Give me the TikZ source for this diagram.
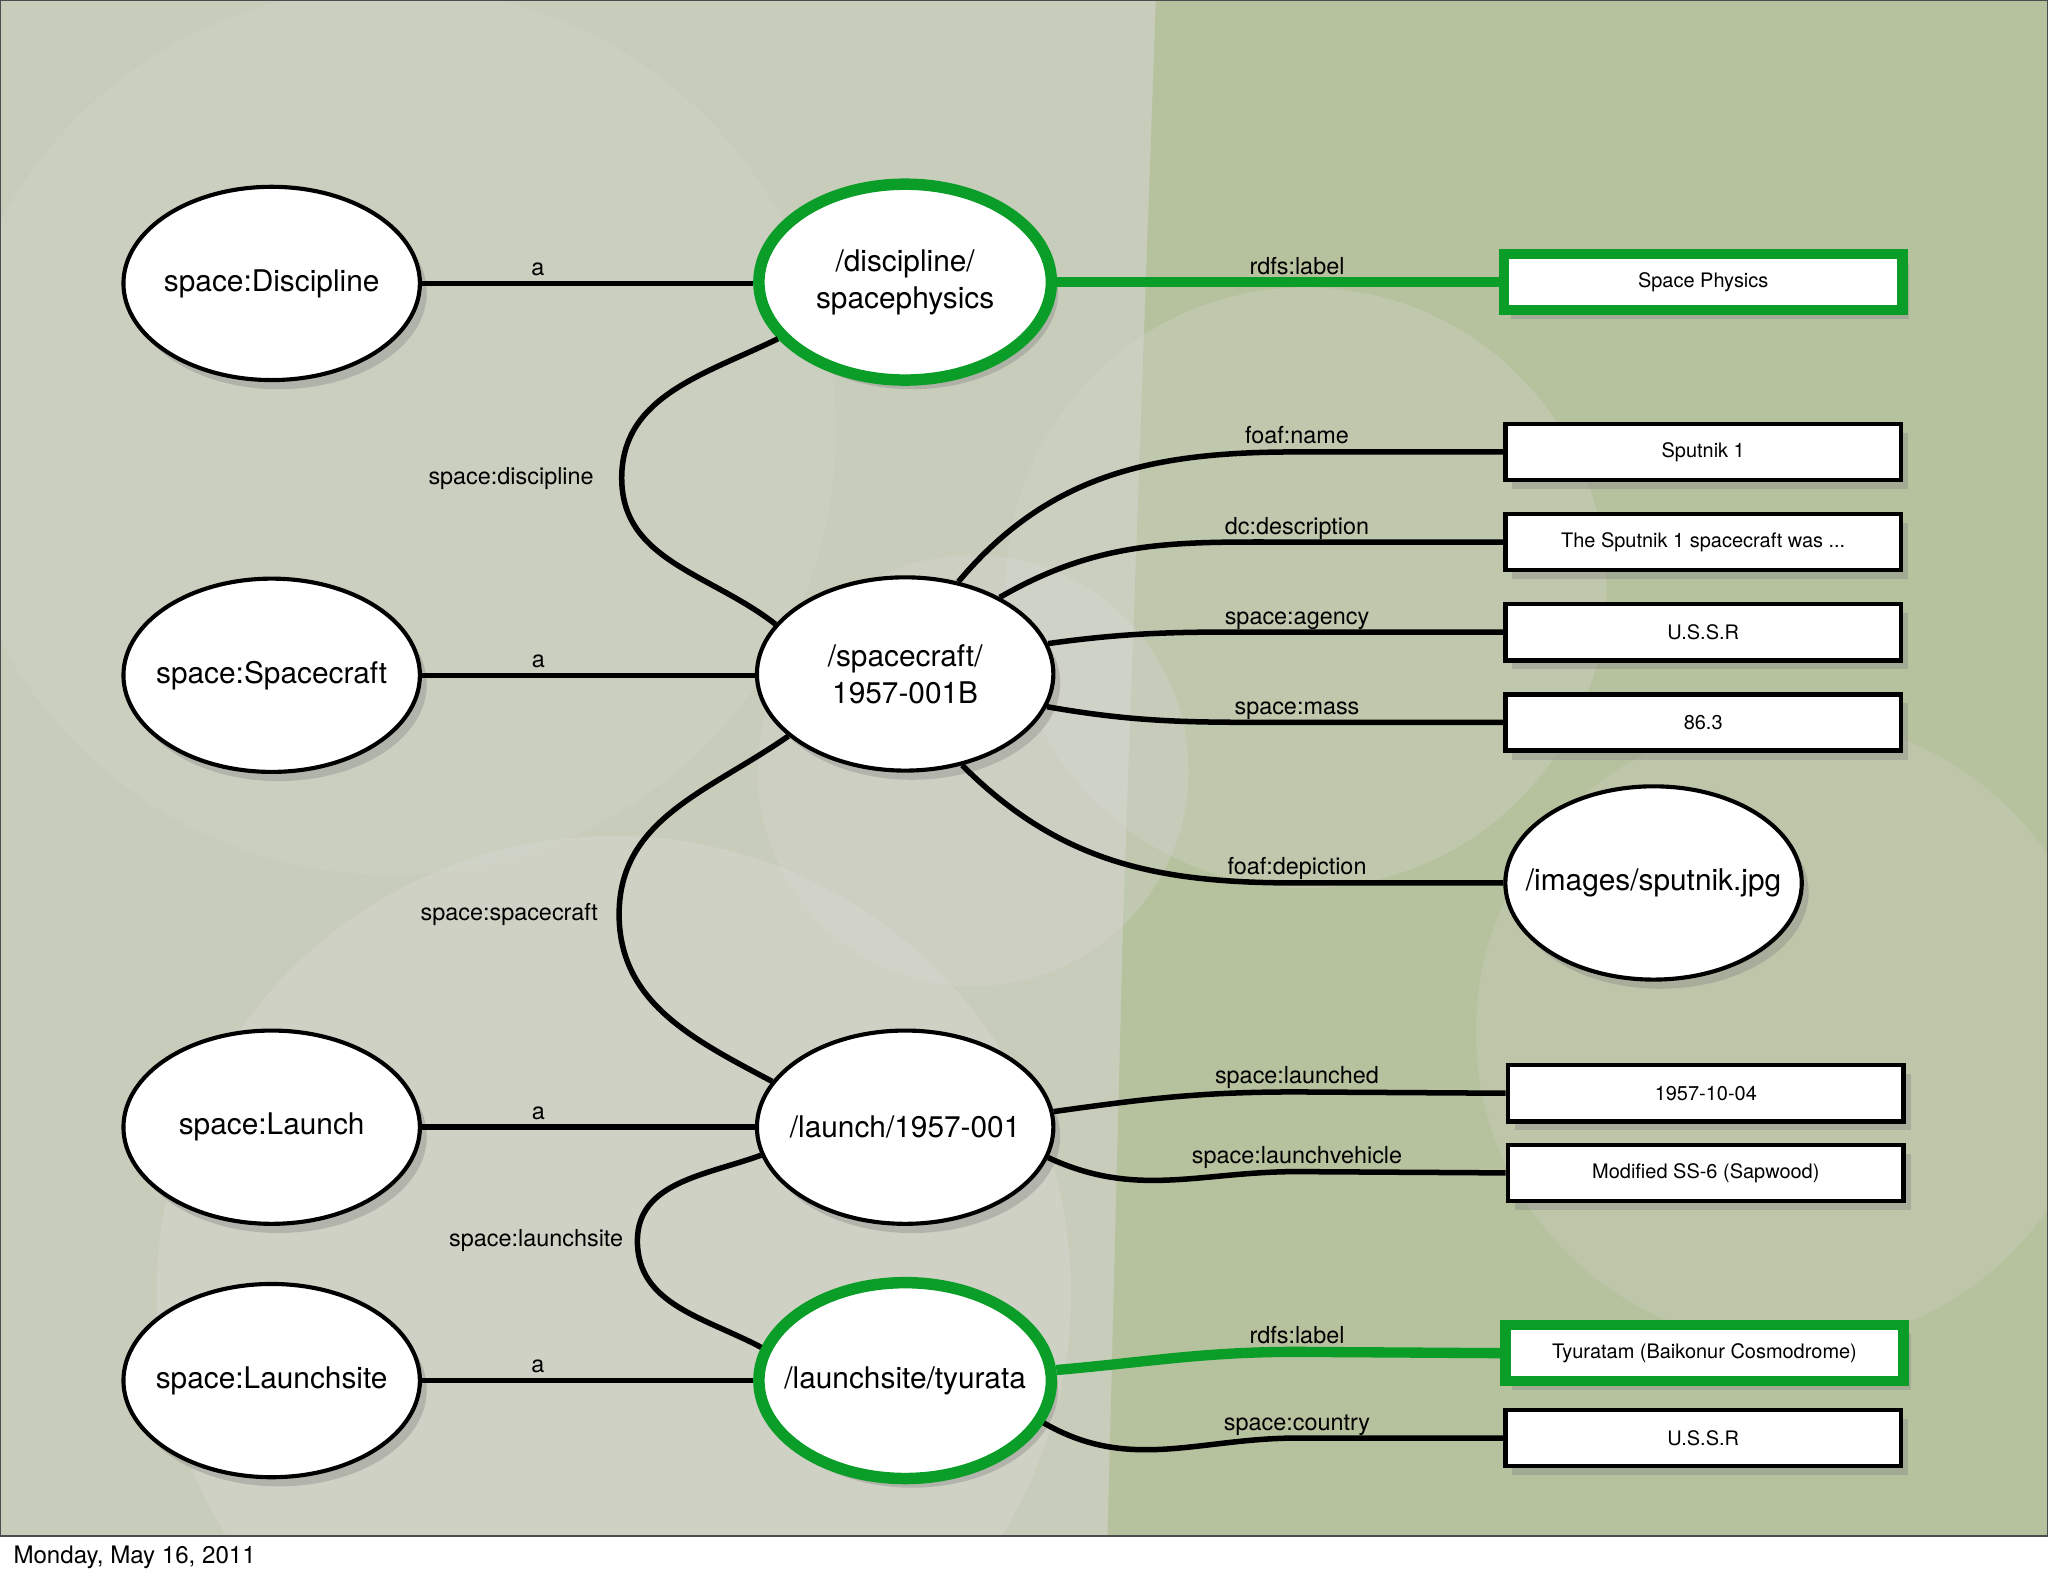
\documentclass[tikz,border=0pt]{standalone}
\usepackage{fontspec}
\setmainfont{TeX Gyre Heros}
\usetikzlibrary{shapes.geometric,shadows}
\definecolor{rdfgreen}{RGB}{10,158,40}
\definecolor{slideleft}{RGB}{200,204,186}
\definecolor{slideright}{RGB}{182,193,158}
\definecolor{slidegray}{RGB}{212,214,205}
\tikzset{
	resource/.style={ellipse,draw=black,line width=1.8pt,fill=white,minimum width=4.54cm,minimum height=2.96cm,inner xsep=-1cm,inner ysep=0pt,align=center,font=\fontsize{13}{16}\selectfont,drop shadow={shadow xshift=3pt,shadow yshift=-4pt,opacity=0.35}},
	subject/.style={resource,draw=rdfgreen,line width=5pt,minimum width=4.48cm,minimum height=3cm},
	literal/.style={rectangle,draw=black,line width=2pt,fill=white,minimum width=6.06cm,minimum height=0.86cm,inner sep=0pt,font=\fontsize{8.7}{10}\selectfont,drop shadow={shadow xshift=3pt,shadow yshift=-4pt,opacity=0.35}},
	labelled/.style={literal,draw=rdfgreen,line width=4.5pt,minimum width=6.1cm},
	predicate/.style={line width=2.4pt},
	labelpred/.style={draw=rdfgreen,line width=4.5pt},
	pname/.style={font=\fontsize{10.2}{12}\selectfont,inner sep=1pt,anchor=base,yshift=3.5pt},
	cname/.style={font=\fontsize{10.2}{12}\selectfont,inner sep=1pt,anchor=east}
}
\begin{document}
\begin{tikzpicture}[x=0.02cm,y=0.02cm]
		\useasboundingbox (0,0) rectangle (1568,-1207);
		\fill[white] (0,0) rectangle (1568,-1207);
		\begin{scope}
			\clip (0,0) rectangle (1568,-1176);
			\fill[slideleft] (0,0) rectangle (1568,-1176);
			\fill[slideright] (885,0)--(1568,0)--(1568,-1176)--(848,-1176)--(860,-700)--cycle;
			\fill[slidegray,opacity=0.3] (300,-330) circle (340);
			\fill[slidegray,opacity=0.5] (470,-990) circle (350);
			\fill[slidegray,opacity=0.3] (1000,-450) circle (230);
			\fill[gray!30,opacity=0.3] (745,-590) circle (165);
			\fill[slidegray,opacity=0.25] (1370,-790) circle (240);
		\end{scope}
		\draw[black!70,line width=1pt] (0,0) rectangle (1568,-1176);
		\node[anchor=base west,inner sep=0pt,font=\fontsize{10.5}{12}\selectfont] (stamp) at (10,-1197) {Monday, May 16, 2011};

		\node[resource] (Discipline) at (208,-217) {space:Discipline};
		\node[resource] (Spacecraft) at (208,-517) {space:Spacecraft};
		\node[resource] (Launch) at (208,-863) {space:Launch};
		\node[resource] (Launchsite) at (208,-1057) {space:Launchsite};
		\node[subject] (physics) at (693,-216) {/discipline/\\spacephysics};
		\node[resource] (sputnik) at (693,-516) {/spacecraft/\\1957-001B};
		\node[resource] (launch) at (693,-863) {/launch/1957-001};
		\node[subject] (tyurata) at (693,-1057) {/launchsite/tyurata};
		\node[labelled] (physlabel) at (1304,-216) {Space Physics};
		\node[literal] (name) at (1304,-346) {Sputnik 1};
		\node[literal] (desc) at (1304,-415) {The Sputnik 1 spacecraft was ...};
		\node[literal] (agency) at (1304,-484) {U.S.S.R};
		\node[literal] (mass) at (1304,-553) {86.3};
		\node[resource] (image) at (1266,-676) {/images/sputnik.jpg};
		\node[literal] (launchdate) at (1306,-837) {1957-10-04};
		\node[literal] (vehicle) at (1306,-898) {Modified SS-6 (Sapwood)};
		\node[labelled] (sitelabel) at (1305,-1036) {Tyuratam (Baikonur Cosmodrome)};
		\node[literal] (country) at (1304,-1101) {U.S.S.R};

		\coordinate (m-physics) at (993,-216);
		\coordinate (m-name) at (993,-346);
		\coordinate (m-desc) at (993,-415);
		\coordinate (m-agency) at (993,-484);
		\coordinate (m-mass) at (993,-553);
		\coordinate (m-image) at (993,-676);
		\coordinate (m-date) at (993,-836);
		\coordinate (m-vehicle) at (993,-897);
		\coordinate (m-site) at (993,-1035);
		\coordinate (m-country) at (993,-1101);
		\coordinate (c-discipline) at (476,-366);
		\coordinate (c-spacecraft) at (474,-700);
		\coordinate (c-launchsite) at (488,-950);

		\draw[predicate] (Discipline.east) -- node[pname,pos=0.35]{a} (physics.west |- Discipline.east);
		\draw[predicate] (Spacecraft.east) -- node[pname,pos=0.35]{a} (sputnik.west |- Spacecraft.east);
		\draw[predicate] (Launch.east) -- node[pname,pos=0.35]{a} (launch.west |- Launch.east);
		\draw[predicate] (Launchsite.east) -- node[pname,pos=0.35]{a} (tyurata.west |- Launchsite.east);

		\draw[predicate] (sputnik.159) to[out=142,in=-90] (c-discipline) node[cname,left=10pt]{space:discipline} to[out=90,in=206] (physics.204);
		\draw[predicate] (sputnik.208) to[out=215,in=90] (c-spacecraft) node[cname,left=7pt]{space:spacecraft} to[out=-90,in=152] (launch.161);
		\draw[predicate] (launch.191) to[out=200,in=90] (c-launchsite) node[cname,left=4pt]{space:launchsite} to[out=-90,in=152] (tyurata.167);

		\draw[labelpred] (physics.east) -- (m-physics) node[pname]{rdfs:label} -- (physlabel.west);
		\draw[predicate] (sputnik.60) to[out=50,in=180] (m-name) node[pname]{foaf:name} -- (name.west);
		\draw[predicate] (sputnik.39) to[out=30,in=180] (m-desc) node[pname]{dc:description} -- (desc.west);
		\draw[predicate] (sputnik.12) to[out=8,in=180] (m-agency) node[pname]{space:agency} -- (agency.west);
		\draw[predicate] (sputnik.347) to[out=-10,in=180] (m-mass) node[pname]{space:mass} -- (mass.west);
		\draw[predicate] (sputnik.302) to[out=-45,in=180] (m-image) node[pname]{foaf:depiction} -- (image.west);
		\draw[predicate] (launch.6) to[out=8,in=180] (m-date) node[pname]{space:launched} -- (launchdate.west);
		\draw[predicate] (launch.348) to[out=-25,in=180] (m-vehicle) node[pname]{space:launchvehicle} -- (vehicle.west);
		\draw[labelpred] (tyurata.4) to[out=5,in=180] (m-site) node[pname]{rdfs:label} -- (sitelabel.west);
		\draw[predicate] (tyurata.343) to[out=-30,in=180] (m-country) node[pname]{space:country} -- (country.west);
	\end{tikzpicture}
\end{document}
